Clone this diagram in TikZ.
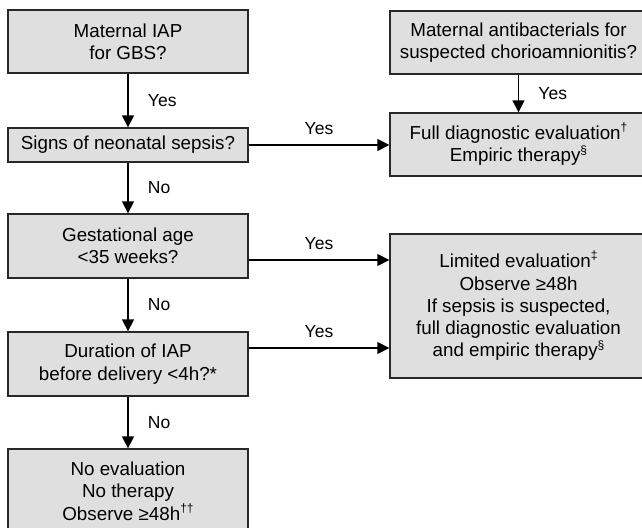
\documentclass[tikz,border=0pt]{standalone}
\usepackage{fontspec}
\setmainfont{Liberation Sans}
\usetikzlibrary{arrows.meta,positioning}
\definecolor{boxfill}{RGB}{223,223,223}
\definecolor{boxline}{RGB}{40,40,40}
\newcommand{\fnmark}[1]{\raisebox{0.42em}{\fontsize{12}{12}\selectfont #1}}
\tikzstyle{every node}=[font=\fontsize{17.5}{21}\selectfont]
\tikzstyle{question}=[rectangle, draw=boxline, fill=boxfill, line width=1.3pt, minimum width=240pt, align=center, inner sep=2pt, font=\fontsize{18.8}{22.3}\selectfont]
\tikzstyle{action}=[question, minimum width=257pt]
\begin{document}
\begin{tikzpicture}[x=1pt, y=-1pt, auto, ->, >={Triangle[length=12pt,width=12pt]}, line width=1.3pt]
	
	\useasboundingbox (0,0) rectangle (642,527);
	\clip (0,0) rectangle (642,527);
	
	\node[question, minimum height=63pt] at (128, 41.5) (gbs) {Maternal IAP\\for GBS?};
	
	\node[question, minimum height=34pt] at (128, 145) (sepsis) {Signs of neonatal sepsis?};
	
	\node[question, minimum height=64pt] at (128, 246) (gest) {Gestational age\\<35 weeks?};
	
	\node[question, minimum height=64pt] at (128, 364) (dur) {Duration of IAP\\before delivery <4h?*};
	
	\node[question, minimum height=84pt] at (128, 491) (noeval) {No evaluation\\No therapy\\Observe ≥48h\fnmark{††}};
	
	\node[action, minimum height=63pt] at (518.5, 42.5) (chorio) {Maternal antibacterials for\\suspected chorioamnionitis?};
	
	\node[action, minimum height=63pt] at (518.5, 144.5) (full) {Full diagnostic evaluation\fnmark{†}\\Empiric therapy\fnmark{§}};
	
	\node[action, minimum height=144pt] at (518.5, 306) (limited) {Limited evaluation\fnmark{‡}\\Observe ≥48h\\If sepsis is suspected,\\full diagnostic evaluation\\and empiric therapy\fnmark{§}};
	
	\path (gbs) edge node[right=16pt]{Yes} (sepsis);
	\path (sepsis) edge node[right=16pt]{No} (gest);
	\path (gest) edge node[right=16pt]{No} (dur);
	\path (dur) edge node[right=16pt]{No} (noeval);
	\path (chorio) edge node[right=16pt]{Yes} (full);
	
	\path (sepsis.east) edge node[above=6pt]{Yes} (sepsis.east -| full.west);
	\path ([yshift=-14pt]gest.east) edge node[above=6pt]{Yes} ([yshift=-14pt]gest.east -| limited.west);
	\path ([yshift=16pt]dur.east) edge node[above=6pt]{Yes} ([yshift=16pt]dur.east -| limited.west);
	
\end{tikzpicture}
\end{document}
